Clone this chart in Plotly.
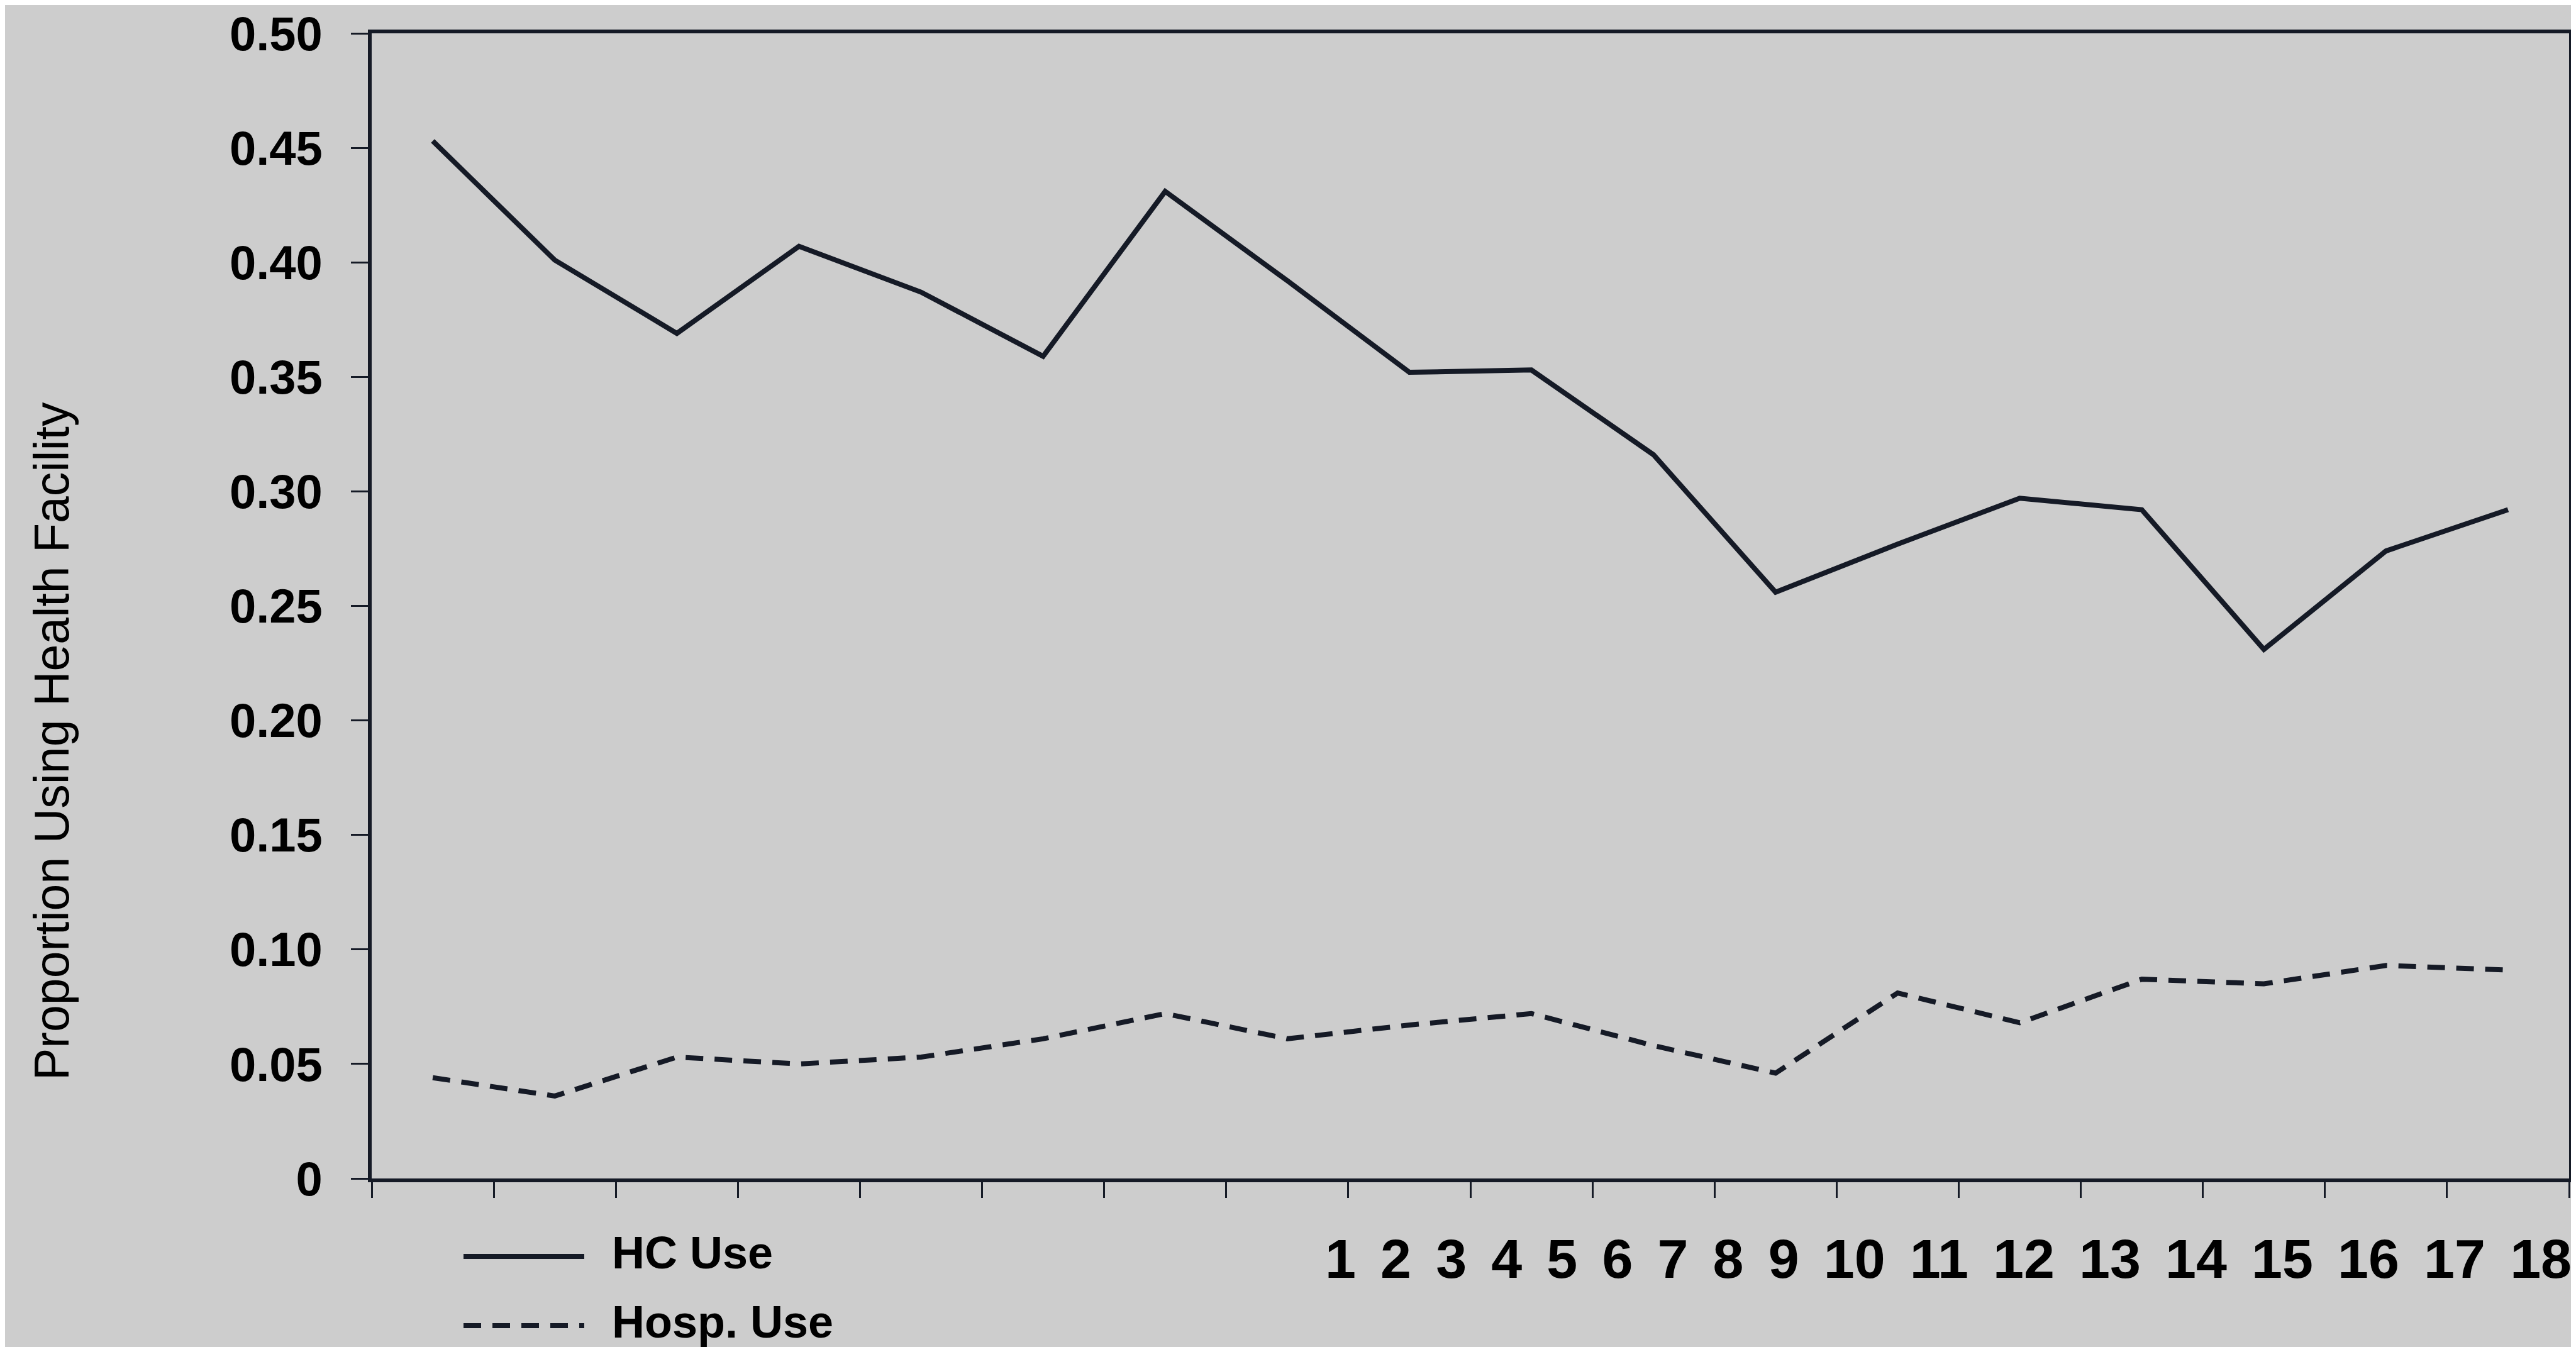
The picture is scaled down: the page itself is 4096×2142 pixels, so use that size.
import plotly.graph_objects as go

# ---- data ----
periods = [str(i) for i in range(1, 19)]
hc_use = [0.453, 0.401, 0.369, 0.407, 0.387, 0.359, 0.431, 0.392, 0.352,
          0.353, 0.316, 0.256, 0.277, 0.297, 0.292, 0.231, 0.274, 0.292]
hosp_use = [0.044, 0.036, 0.053, 0.050, 0.053, 0.061, 0.072, 0.061, 0.067,
            0.072, 0.058, 0.046, 0.081, 0.068, 0.087, 0.085, 0.093, 0.091]
y_tick_values = [0, 0.05, 0.10, 0.15, 0.20, 0.25, 0.30, 0.35, 0.40, 0.45, 0.50]
y_tick_labels = ["0", "0.05", "0.10", "0.15", "0.20", "0.25", "0.30", "0.35",
                 "0.40", "0.45", "0.50"]
series_names = ["HC Use", "Hosp. Use"]
y_title = "Proportion Using Health Facility"

# ---- style ----
BG = "#cdcdcd"
INK = "#151a26"
FONT = "Liberation Sans, Arial, sans-serif"
W, H = 4096, 2142
L, R, T, B = 583, 19, 45, 276
LW = 8
DASH = "28px,18px"

fig = go.Figure()
fig.add_trace(go.Scatter(x=periods, y=hc_use, mode="lines", name=series_names[0],
                         line=dict(color=INK, width=LW), showlegend=False))
fig.add_trace(go.Scatter(x=periods, y=hosp_use, mode="lines", name=series_names[1],
                         line=dict(color=INK, width=LW, dash=DASH), showlegend=False))

pw = W - L - R
ph = H - T - B
def px_x(p):
    return (p - L) / pw
def px_y(p):
    return (H - B - p) / ph

# custom legend (long line samples)
legend_rows = [(series_names[0], "solid", 1984), (series_names[1], DASH, 2094)]
for name, dash, ypix in legend_rows:
    fig.add_shape(type="line", xref="paper", yref="paper",
                  x0=px_x(729), x1=px_x(921), y0=px_y(ypix + 6), y1=px_y(ypix + 6),
                  line=dict(color=INK, width=LW, dash=dash))
    fig.add_annotation(text=name, xref="paper", yref="paper",
                       x=px_x(963), y=px_y(ypix), xanchor="left", yanchor="middle",
                       showarrow=False,
                       font=dict(family=FONT, size=72, color="black", weight="bold"))

# period labels row
sep = " \u200a\u200a"
fig.add_annotation(text=sep.join(periods), xref="paper", yref="paper",
                   x=px_x(4083), y=px_y(1993), xanchor="right", yanchor="middle",
                   showarrow=False,
                   font=dict(family=FONT, size=88, color="black", weight="bold"))

# y title
fig.add_annotation(text=y_title, xref="paper", yref="paper",
                   x=px_x(74), y=px_y(1171), xanchor="center", yanchor="middle",
                   textangle=-90, showarrow=False,
                   font=dict(family=FONT, size=77, color="black"))

fig.update_layout(
    width=W, height=H,
    margin=dict(l=L, r=R, t=T, b=B, autoexpand=False),
    paper_bgcolor=BG, plot_bgcolor=BG,
    showlegend=False,
    xaxis=dict(type="category", tickson="boundaries", showticklabels=False,
               ticks="outside", ticklen=25, tickwidth=3, tickcolor=INK,
               showline=True, linecolor=INK, linewidth=6, mirror=True,
               showgrid=False, zeroline=False, range=[-0.5, 17.5]),
    yaxis=dict(range=[0, 0.5], tickvals=y_tick_values, ticktext=y_tick_labels,
               ticks="outside", ticklen=27, tickwidth=3, tickcolor=INK,
               ticklabelstandoff=30,
               tickfont=dict(family=FONT, size=76, color="black", weight="bold"),
               showline=True, linecolor=INK, linewidth=6, mirror=True,
               showgrid=False, zeroline=False),
)

fig.write_html("out.html")
